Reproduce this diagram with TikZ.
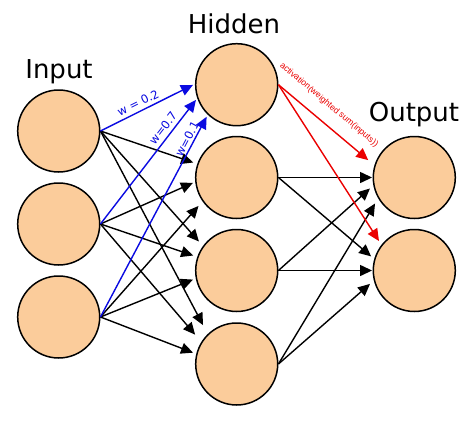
\documentclass[tikz,border=0pt]{standalone}
\usepackage{fontspec}
\setmainfont{DejaVu Sans}
\newfontfamily\smallsans{Liberation Sans}
\usetikzlibrary{arrows.meta}
\definecolor{peach}{RGB}{251,204,155}
\definecolor{wblue}{RGB}{10,10,225}
\definecolor{actred}{RGB}{235,0,0}
\begin{document}
\begin{tikzpicture}[x=1pt,y=-1pt,
  neuron/.style={circle,draw=black,line width=1.5pt,fill=peach,minimum size=82pt,inner sep=0pt},
  layertitle/.style={font=\fontsize{26}{30}\selectfont,anchor=base,inner sep=0pt},
  conn/.style={line width=1.4pt,-{Triangle[length=12pt,width=11pt]}},
  blueconn/.style={conn,draw=wblue},
  redconn/.style={conn,draw=actred},
  weightlabel/.style={text=wblue,font=\fontsize{11.5}{13}\selectfont,inner sep=0pt},
  actlabel/.style={text=actred,font=\smallsans\fontsize{8.7}{10}\selectfont,inner sep=0pt}
]
\useasboundingbox (0,0) rectangle (474,423);
\fill[white] (0,0) rectangle (474,423);

% neurons
\node[neuron] (I1) at (58.7,131) {};
\node[neuron] (I2) at (58.7,224) {};
\node[neuron] (I3) at (58.7,317) {};
\node[neuron] (H1) at (236.7,84.7) {};
\node[neuron] (H2) at (236.7,177.5) {};
\node[neuron] (H3) at (236.7,270.5) {};
\node[neuron] (H4) at (236.7,364) {};
\node[neuron] (O1) at (414.3,177.5) {};
\node[neuron] (O2) at (414.3,270.5) {};

% titles
\node[layertitle] (tin) at (59,78) {Input};
\node[layertitle] (thid) at (234,33) {Hidden};
\node[layertitle] (tout) at (414,121) {Output};

% input -> hidden (black)
\draw[conn,shorten >=4.3pt] (I1.east) -- (H2.161.7);
\draw[conn,shorten >=6pt]   (I1.east) -- (H3.144.5);
\draw[conn,shorten >=10pt]  (I1.east) -- (H4.134);
\draw[conn,shorten >=2.5pt] (I2.east) -- (H2.186.2);
\draw[conn,shorten >=4.3pt] (I2.east) -- (H3.161.7);
\draw[conn,shorten >=9.5pt] (I2.east) -- (H4.148.5);
\draw[conn,shorten >=6pt]   (I3.east) -- (H2.215.5);
\draw[conn,shorten >=3pt]   (I3.east) -- (H3.191.5);
\draw[conn,shorten >=3.4pt] (I3.east) -- (H4.166.4);

% input -> hidden 1 (blue)
\draw[blueconn,shorten >=2.2pt] (I1.east) -- (H1.179);
\draw[blueconn,shorten >=2.1pt] (I2.east) -- (H1.199);
\draw[blueconn,shorten >=2.3pt] (I3.east) -- (H1.226.7);

% hidden -> output (black)
\draw[conn,shorten >=0.5pt] (H2.east) -- (O1.west);
\draw[conn,shorten >=4.5pt] (H3.east) -- (O1.191.6);
\draw[conn,shorten >=6pt]   (H4.east) -- (O1.210);
\draw[conn,shorten >=4pt]   (H2.east) -- (O2.164.9);
\draw[conn,shorten >=0.5pt] (H3.east) -- (O2.west);
\draw[conn,shorten >=5pt]   (H4.east) -- (O2.194.7);

% hidden 1 -> output (red)
\draw[redconn,shorten >=8pt]   (H1.east) -- (O1.163);
\draw[redconn,shorten >=4.5pt] (H1.east) -- (O2.142);

% labels
\node[weightlabel,rotate=26.6] (w1) at (138,103) {w = 0.2};
\node[weightlabel,rotate=52.5] (w2) at (163,128) {w=0.7};
\node[weightlabel,rotate=62] (w3) at (187,139) {w=0.1};
\node[actlabel,rotate=-40] (act) at (329,105) {activation(weighted sum(inputs))};
\end{tikzpicture}
\end{document}
